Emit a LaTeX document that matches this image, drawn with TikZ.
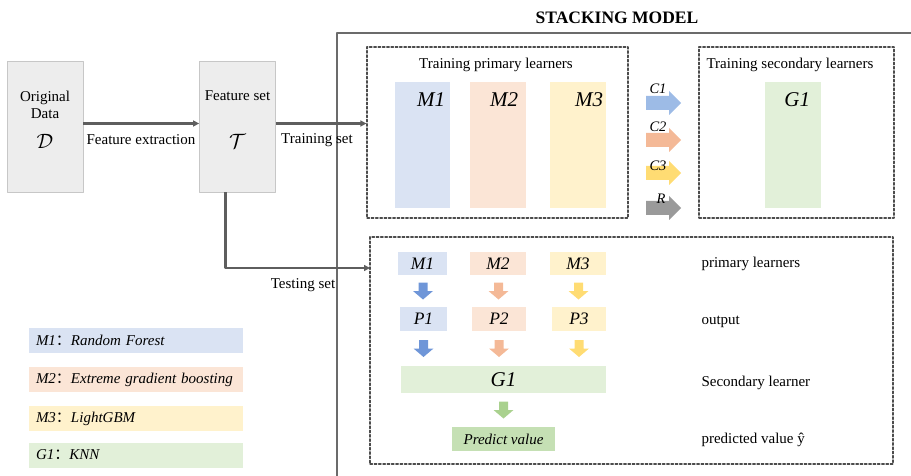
\documentclass[tikz,border=0pt]{standalone}
\usepackage{fontspec}
\setmainfont{Liberation Serif}
\newfontfamily\cjkfont{Noto Sans CJK SC}
\usetikzlibrary{arrows.meta,calc}

\definecolor{lblue}{HTML}{DAE3F3}
\definecolor{lorange}{HTML}{FBE5D6}
\definecolor{lyellow}{HTML}{FFF2CC}
\definecolor{lgreen}{HTML}{E2F0D9}
\definecolor{mgreen}{HTML}{C5E0B4}
\definecolor{ablue}{HTML}{9DBBE6}
\definecolor{dblue}{HTML}{6F96D8}
\definecolor{aorange}{HTML}{F4B997}
\definecolor{ayellow}{HTML}{FFDC73}
\definecolor{agreen}{HTML}{A9D18E}
\definecolor{agray}{HTML}{9A9A9A}
\definecolor{linegray}{HTML}{5E5E5E}

\begin{document}
\begin{tikzpicture}[x=1pt,y=-1pt,line cap=round,line join=round,>={Triangle[length=6pt,width=6pt]},
  font=\fontsize{15}{17}\selectfont]
\useasboundingbox (0,0) rectangle (911,476);

\tikzstyle{databox}=[draw=black!22, line width=0.8pt, fill=black!7, minimum width=76pt, minimum height=131pt]
\tikzstyle{dbox}=[draw=black!70, line width=1.2pt, dash pattern=on 2.5pt off 1.8pt]
\tikzstyle{mbox}=[inner sep=0pt]
\tikzstyle{flow}=[->, draw=linegray, line width=2.6pt, line cap=butt]
\tikzstyle{mlab}=[font=\fontsize{21}{23}\selectfont\itshape, inner sep=0pt]
\tikzstyle{tlab}=[font=\fontsize{17.5}{19}\selectfont\itshape, inner sep=0pt]
\tikzstyle{clab}=[font=\fontsize{14.5}{16}\selectfont\itshape, inner sep=0pt]
\tikzstyle{legend}=[inner xsep=7pt, minimum width=214pt, minimum height=25pt, text width=200pt, align=left,
  font=\fontsize{15}{16}\selectfont\itshape]
\tikzset{
  sidearr/.pic={\fill[#1] (-17.5,-7) -- (5.5,-7) -- (5.5,-12) -- (17.5,0) -- (5.5,12) -- (5.5,7) -- (-17.5,7) -- cycle;},
  downarr/.pic={\fill[#1] (-4.5,-8.5) -- (4.5,-8.5) -- (4.5,0) -- (10,0) -- (0,8.5) -- (-10,0) -- (-4.5,0) -- cycle;}
}

% stacking model frame
\draw[draw=black!58, line width=1.6pt] (337,476) |- (911,33);
\node[font=\fontsize{17.5}{20}\selectfont\bfseries] (title) at (617,18) {STACKING MODEL};

% data and features
\node[databox] (orig) at (45,126.5) {};
\node[align=center] (origtxt) at (45,105) {Original\\Data};
\node[font=\fontsize{22}{24}\selectfont] (dset) at (45,141) {$\mathcal{D}$};
\node[databox] (feat) at (237.5,126.5) {};
\node (feattxt) at (237.5,96) {Feature set};
\node[font=\fontsize{22}{24}\selectfont] (tset) at (237.5,141) {$\mathcal{T}$};

% training part
\node[dbox, minimum width=261pt, minimum height=171pt] (trainbox) at (497.5,132.5) {};
\node (traintitle) at (496,65) {Training primary learners};
\node[mbox, fill=lblue, minimum width=55pt, minimum height=126pt] (m1) at (422.5,145) {};
\node[mbox, fill=lorange, minimum width=56pt, minimum height=126pt] (m2) at (498,145) {};
\node[mbox, fill=lyellow, minimum width=56pt, minimum height=126pt] (m3) at (578,145) {};
\node[mlab, anchor=east] (m1lab) at ([xshift=-5pt,yshift=-18pt]m1.north east) {M1};
\node[mlab, anchor=east] (m2lab) at ([xshift=-8pt,yshift=-18pt]m2.north east) {M2};
\node[mlab, anchor=east] (m3lab) at ([xshift=-3pt,yshift=-18pt]m3.north east) {M3};

\node[dbox, minimum width=195pt, minimum height=171pt] (secbox) at (796.5,132.5) {};
\node (sectitle) at (790,65) {Training secondary learners};
\node[mbox, fill=lgreen, minimum width=56pt, minimum height=126pt] (g1) at (793,145) {};
\node[mlab, anchor=east] (g1lab) at ([xshift=-11pt,yshift=-18pt]g1.north east) {G1};

\pic at (663.5,103) {sidearr=ablue};
\pic at (663.5,140) {sidearr=aorange};
\pic at (663.5,173) {sidearr=ayellow};
\pic at (663.5,208) {sidearr=agray};
\node[clab] (c1) at (658,89) {C1};
\node[clab] (c2) at (658,127) {C2};
\node[clab] (c3) at (658,166) {C3};
\node[clab] (rlab) at (661,199) {R};

% testing part
\node[dbox, minimum width=523pt, minimum height=227pt] (testbox) at (631.5,350.5) {};
\node[mbox, fill=lblue, minimum width=49pt, minimum height=23pt, tlab] (m1t) at (422.5,263.5) {M1};
\node[mbox, fill=lorange, minimum width=56pt, minimum height=23pt, tlab] (m2t) at (498,263.5) {M2};
\node[mbox, fill=lyellow, minimum width=56pt, minimum height=23pt, tlab] (m3t) at (578,263.5) {M3};
\node[mbox, fill=lblue, minimum width=47pt, minimum height=24pt, tlab] (p1) at (423.5,319) {P1};
\node[mbox, fill=lorange, minimum width=54pt, minimum height=24pt, tlab] (p2) at (499,319) {P2};
\node[mbox, fill=lyellow, minimum width=54pt, minimum height=24pt, tlab] (p3) at (579,319) {P3};
\node[mbox, fill=lgreen, minimum width=205pt, minimum height=27pt, mlab] (g1t) at (503.5,379.5) {G1};
\node[mbox, fill=mgreen, minimum width=103pt, minimum height=24pt, font=\fontsize{15}{17}\selectfont\itshape] (pred) at (503.5,439) {Predict value};

\pic at ($(m1t.south)!0.5!(p1.north)$) {downarr=dblue};
\pic at ($(m2t.south)!0.5!(p2.north)$) {downarr=aorange};
\pic at ($(m3t.south)!0.5!(p3.north)$) {downarr=ayellow};
\pic at ($(p1.south)!0.5!(p1.south |- g1t.north)$) {downarr=dblue};
\pic at ($(p2.south)!0.5!(p2.south |- g1t.north)$) {downarr=aorange};
\pic at ($(p3.south)!0.5!(p3.south |- g1t.north)$) {downarr=ayellow};
\pic at ($(g1t.south)!0.5!(pred.north)$) {downarr=agreen};

\node[anchor=west] (rowa) at (698,264) {primary learners};
\node[anchor=west] (rowb) at (698,322) {output};
\node[anchor=west] (rowc) at (698,383) {Secondary learner};
\node[anchor=west] (rowd) at (698,440) {predicted value ŷ};

% connectors
\coordinate (testin) at (370,268);
\draw[flow] ([yshift=3pt]orig.east) -- ([yshift=3pt]feat.west);
\draw[flow] ([yshift=3pt]feat.east) -- ([yshift=3pt]feat.east -| trainbox.west);
\draw[flow] ([xshift=-12pt]feat.south) |- (testin);
\node (extr) at (141,140) {Feature extraction};
\node (trset) at (317,140) {Training set};
\node (teset) at (303,285) {Testing set};

% legend
\node[legend, fill=lblue] (leg1) at (136,340.5) {M1{\cjkfont ：}Random Forest};
\node[legend, fill=lorange] (leg2) at (136,379.5) {M2{\cjkfont ：}Extreme gradient boosting};
\node[legend, fill=lyellow] (leg3) at (136,418.5) {M3{\cjkfont ：}LightGBM};
\node[legend, fill=lgreen] (leg4) at (136,455) {G1{\cjkfont ：}KNN};
\end{tikzpicture}
\end{document}
